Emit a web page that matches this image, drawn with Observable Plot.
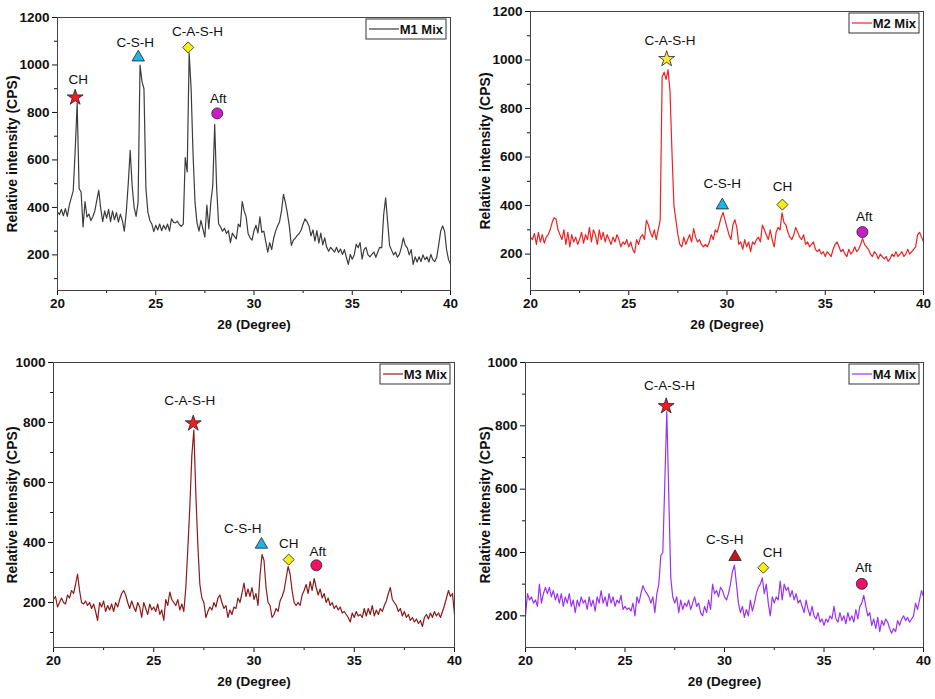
<!DOCTYPE html>
<html>
<head>
<meta charset="utf-8">
<script src="https://cdn.jsdelivr.net/npm/d3@7"></script>
<script src="https://cdn.jsdelivr.net/npm/@observablehq/plot@0.6"></script>
<style>
  body { margin: 0; background: #fff; }
  #chart { position: relative; width: 935px; height: 699px; }
  #chart svg { position: absolute; }
</style>
</head>
<body>
<div id="chart"></div>
<script>
// 2θ grid, 20 to 40 degrees in 0.1 steps
const theta = d3.range(201).map(i => +(20 + i * 0.1).toFixed(1))

// intensities, one row per degree
const m1 = [
  380,370,392,365,395,362,410,440,470,640,
  840,480,465,318,425,360,372,345,362,385,
  430,472,395,340,385,355,392,340,385,348,
  378,338,372,345,300,380,500,640,490,400,
  362,420,1000,930,900,480,380,345,330,298,
  325,305,330,302,325,308,330,300,352,338,
  335,342,328,320,330,610,550,1050,900,620,
  420,335,300,345,310,275,410,310,420,490,
  750,480,330,318,300,312,290,302,252,292,
  278,268,330,318,425,385,360,290,272,262,
  302,325,292,360,295,300,255,212,252,222,
  270,300,322,340,385,455,420,375,320,240,
  262,270,282,290,305,330,352,340,322,280,
  305,258,302,250,292,242,272,232,215,232,
  222,212,232,210,225,202,222,190,160,202,
  182,200,245,230,252,182,222,232,200,192,
  202,212,190,212,232,230,370,440,340,240,
  220,200,212,190,202,232,272,240,230,200,
  222,160,192,170,192,172,200,180,192,170,
  202,180,172,190,242,300,322,300,222,180,
  160
]
const m2 = [
  270,260,285,240,290,250,280,245,270,280,
  300,330,350,345,300,280,260,300,240,290,
  230,280,250,270,240,260,290,245,280,260,
  310,250,300,280,240,300,260,290,250,280,
  260,240,270,250,280,260,230,250,240,260,
  230,250,220,205,260,240,270,280,260,340,
  320,290,270,300,260,300,340,930,950,920,
  960,870,620,400,340,280,240,230,270,240,
  260,280,250,305,270,250,260,240,230,240,
  230,250,280,260,300,290,320,350,372,340,
  310,280,260,320,342,310,240,250,220,260,
  230,250,210,250,240,260,270,250,320,300,
  280,260,300,260,230,290,310,300,370,330,
  320,290,270,260,280,310,290,270,260,280,
  240,250,230,240,250,220,210,220,200,210,
  190,210,200,190,220,240,250,230,210,220,
  200,190,220,200,210,230,210,220,240,265,
  240,230,220,200,190,210,200,180,200,190,
  180,190,170,180,200,190,210,190,200,210,
  190,200,220,200,210,220,230,280,290,270,
  250
]
const m3 = [
  210,220,185,200,215,200,195,225,215,240,
  230,260,295,240,200,195,205,190,200,180,
  195,170,140,200,185,205,170,190,175,195,
  170,200,185,210,230,240,225,200,180,205,
  185,170,200,185,150,200,180,160,195,175,
  185,170,195,160,175,140,210,190,235,210,
  200,190,210,175,195,170,250,380,520,690,
  775,560,390,260,215,200,150,170,185,175,
  200,185,215,225,200,180,190,150,175,160,
  185,180,215,200,230,265,220,245,220,250,
  210,230,190,290,360,340,250,200,190,150,
  160,180,170,205,220,240,280,320,295,240,
  200,190,200,190,225,240,260,230,270,240,
  280,250,225,245,215,230,200,215,190,200,
  180,190,175,185,165,170,160,150,135,165,
  150,170,155,160,150,180,155,180,160,190,
  155,175,160,180,170,190,205,230,250,210,
  200,190,170,180,155,170,150,160,140,150,
  135,145,130,140,120,150,160,145,165,150,
  170,155,165,150,170,190,215,240,220,230,
  160
]
const m4 = [
  200,270,250,260,240,250,230,300,240,270,
  290,270,290,260,280,250,270,240,270,230,
  260,240,270,230,250,210,250,230,260,240,
  250,220,260,230,250,215,260,240,280,240,
  260,230,270,240,260,230,250,240,265,220,
  230,220,225,215,240,200,260,240,270,295,
  280,270,260,240,260,210,270,300,390,400,
  620,845,580,320,260,240,260,210,250,220,
  240,230,250,220,240,260,230,240,210,200,
  230,210,250,220,300,270,280,260,290,280,
  260,250,270,300,340,360,300,240,210,230,
  195,220,200,250,215,240,270,290,300,320,
  270,300,240,200,260,240,260,250,310,250,
  300,280,290,260,280,250,270,240,250,230,
  210,250,220,200,230,200,190,210,180,190,
  170,190,180,200,190,230,190,180,210,185,
  200,175,210,185,200,180,220,190,230,240,
  265,230,200,210,170,190,160,195,150,185,
  170,190,180,160,145,160,150,185,170,190,
  200,185,195,180,190,200,240,220,250,280,
  260
]

// phase annotations: marker point and label point, in data units
const phases1 = ["CH", "C-S-H", "C-A-S-H", "Aft"]
const markX1 = [20.9, 24.11, 26.65, 28.13]
const markY1 = [863, 1032, 1074, 796]
const labelX1 = [21.05, 23.96, 27.12, 28.18]
const labelY1 = [939, 1095, 1141, 859]

const phases2 = ["C-A-S-H", "C-S-H", "CH", "Aft"]
const markX2 = [26.93, 29.76, 32.82, 36.89]
const markY2 = [1004, 401, 404, 291]
const labelX2 = [27.1, 29.76, 32.82, 36.98]
const labelY2 = [1080, 490, 480, 356]

const phases3 = ["C-A-S-H", "C-S-H", "CH", "Aft"]
const markX3 = [26.97, 30.37, 31.73, 33.11]
const markY3 = [797, 393, 343, 324]
const labelX3 = [26.79, 29.44, 31.73, 33.18]
const labelY3 = [872, 447, 397, 369]

const phases4 = ["C-A-S-H", "C-S-H", "CH", "Aft"]
const markX4 = [27.07, 30.53, 31.95, 36.9]
const markY4 = [862, 386, 352, 301]
const labelX4 = [27.24, 30.01, 32.41, 36.98]
const labelY4 = [926, 441, 400, 353]

const xTicks = [20, 25, 30, 35, 40]
const xMinor = [22.5, 27.5, 32.5, 37.5]

const font = "Liberation Sans, Arial, sans-serif"
const red = "#ee1c25", cyan = "#1fb4e6", yellow = "#f5ee16", magenta = "#c81ec8", pink = "#ee1166"

function panel(cfg) {
  const rows = theta.map((t, i) => ({t, v: cfg.values[i]}))
  const notes = cfg.phases.map((p, i) => ({
    name: p, mx: cfg.markX[i], my: cfg.markY[i], lx: cfg.labelX[i], ly: cfg.labelY[i]
  }))

  const chart = Plot.plot({
    width: cfg.width,
    height: cfg.height,
    marginLeft: cfg.ml,
    marginRight: cfg.mr,
    marginTop: cfg.mt,
    marginBottom: cfg.mb,
    x: {domain: [20, 40]},
    y: {domain: cfg.yDomain},
    style: {fontFamily: font, color: "#111", background: "white", overflow: "visible"},
    marks: [
      Plot.axisX({ticks: xTicks, tickSize: 5, tickPadding: 3, fontSize: 13.5, fontWeight: "bold", label: null}),
      Plot.axisX({ticks: xMinor, tickSize: 3, tickFormat: () => "", label: null}),
      Plot.axisY({ticks: cfg.yTicks, tickSize: 5, tickPadding: 3, tickFormat: d3.format("d"),
        fontSize: 13.5, fontWeight: "bold", label: null}),
      Plot.axisY({ticks: cfg.yMinor, tickSize: 3, tickFormat: () => "", label: null}),
      Plot.line(rows, {x: "t", y: "v", stroke: cfg.color, strokeWidth: 1.2}),
      Plot.frame({stroke: "#444"}),
      ...notes.map((n, i) => Plot.dot([n], {
        x: "mx", y: "my", symbol: cfg.symbols[i], r: cfg.sizes[i],
        fill: cfg.fills[i], stroke: "#222", strokeWidth: 0.8
      })),
      Plot.text(notes, {x: "lx", y: "ly", text: "name", fontSize: 13.5, fill: "#111"}),
      Plot.text(["2θ (Degree)"], {text: d => d, frameAnchor: "bottom", dy: 38, fontSize: 13.5, fontWeight: "bold"}),
      Plot.text(["Relative intensity (CPS)"], {
        text: d => d, frameAnchor: "left", textAnchor: "middle", dx: cfg.yLabelDx, rotate: -90,
        fontSize: 14, fontWeight: "bold"
      })
    ]
  })

  // legend box in the top right corner
  const svg = d3.select(chart)
  const x0 = cfg.width - cfg.mr - cfg.legendW - 4
  const y0 = cfg.mt + 2
  const g = svg.append("g")
  g.append("rect")
    .attr("x", x0).attr("y", y0).attr("width", cfg.legendW).attr("height", 20)
    .attr("fill", "white").attr("stroke", "#333")
  g.append("line")
    .attr("x1", x0 + 3).attr("x2", x0 + cfg.legendW - 47)
    .attr("y1", y0 + 10).attr("y2", y0 + 10)
    .attr("stroke", cfg.color).attr("stroke-width", 1.2)
  g.append("text")
    .attr("x", x0 + cfg.legendW - 3).attr("y", y0 + 10).attr("dy", "0.35em")
    .attr("text-anchor", "end").attr("font-weight", "bold").attr("font-size", 13)
    .attr("font-family", font).attr("fill", "#111")
    .text(cfg.name)

  svg.style("left", cfg.left + "px").style("top", cfg.top + "px")
  d3.select("#chart").append(() => chart)
}

const symbols = ["star", "triangle", "diamond2", "circle"]
const sizes = [5, 4.6, 5, 5.5]

panel({
  name: "M1 Mix", values: m1, color: "#3c3c3c",
  phases: phases1, markX: markX1, markY: markY1, labelX: labelX1, labelY: labelY1,
  symbols, sizes, fills: [red, cyan, yellow, magenta],
  left: 0, top: 0, width: 467, height: 350, ml: 57, mr: 17, mt: 17, mb: 60,
  yDomain: [50, 1200], yTicks: [200, 400, 600, 800, 1000, 1200], yMinor: [100, 300, 500, 700, 900, 1100],
  yLabelDx: -45, legendW: 80
})
panel({
  name: "M2 Mix", values: m2, color: "#ee2222",
  phases: phases2, markX: markX2, markY: markY2, labelX: labelX2, labelY: labelY2,
  symbols, sizes, fills: ["#f7e83a", cyan, yellow, magenta],
  left: 465, top: 0, width: 470, height: 350, ml: 65, mr: 12, mt: 11, mb: 60,
  yDomain: [50, 1200], yTicks: [200, 400, 600, 800, 1000, 1200], yMinor: [100, 300, 500, 700, 900, 1100],
  yLabelDx: -45, legendW: 70
})
panel({
  name: "M3 Mix", values: m3, color: "#8b1a1a",
  phases: phases3, markX: markX3, markY: markY3, labelX: labelX3, labelY: labelY3,
  symbols, sizes, fills: [red, cyan, yellow, pink],
  left: 0, top: 355, width: 467, height: 344, ml: 53, mr: 13, mt: 7, mb: 52,
  yDomain: [50, 1000], yTicks: [200, 400, 600, 800, 1000], yMinor: [100, 300, 500, 700, 900],
  yLabelDx: -41, legendW: 70
})
panel({
  name: "M4 Mix", values: m4, color: "#9a32f5",
  phases: phases4, markX: markX4, markY: markY4, labelX: labelX4, labelY: labelY4,
  symbols, sizes, fills: [red, "#c8141e", yellow, pink],
  left: 465, top: 355, width: 470, height: 344, ml: 60, mr: 12, mt: 7, mb: 52,
  yDomain: [100, 1000], yTicks: [200, 400, 600, 800, 1000], yMinor: [300, 500, 700, 900],
  yLabelDx: -40, legendW: 70
})
</script>
</body>
</html>
